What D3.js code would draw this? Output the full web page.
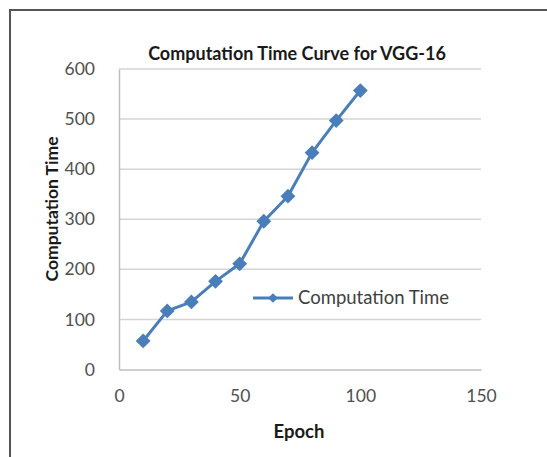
<!DOCTYPE html>
<html>
<head>
<meta charset="utf-8">
<script src="https://cdn.jsdelivr.net/npm/d3@7"></script>
<style>
  body { margin: 0; background: #fff; }
  svg text { font-family: Lato, "Open Sans", sans-serif; }
</style>
</head>
<body>
<svg id="chart"></svg>
<script>
/*
    DATA
*/
var epochs = [10, 20, 30, 40, 50, 60, 70, 80, 90, 100];
var compTime = [57, 117, 135, 176, 211, 296, 346, 433, 497, 557];
var xTicks = [0, 50, 100, 150];
var yTicks = [0, 100, 200, 300, 400, 500, 600];
var seriesName = "Computation Time";

/*
    LAYOUT
*/
var width = 547, height = 457;
var plot = {left: 119, right: 481, top: 69, bottom: 369.5};
var blue = "#4a7ebb";

var svg = d3.select("#chart").attr("width", width).attr("height", height);

// outer frame (cut off at the right and bottom)
svg.append("path")
  .attr("d", "M10," + height + " V10 H" + width)
  .attr("fill", "none")
  .attr("stroke", "#555")
  .attr("stroke-width", 2);

var x = d3.scaleLinear().domain([0, 150]).range([plot.left, plot.right]);
var y = d3.scaleLinear().domain([0, 600]).range([plot.bottom, plot.top]);

// gridlines
svg.append("g")
  .selectAll("line")
  .data(yTicks.filter(function(d) { return d > 0; }))
  .enter().append("line")
  .attr("x1", plot.left).attr("x2", plot.right)
  .attr("y1", function(d) { return y(d); })
  .attr("y2", function(d) { return y(d); })
  .attr("stroke", "#d4d4d4")
  .attr("stroke-width", 1.5);

// axes
var xAxis = svg.append("g")
  .attr("transform", "translate(0," + plot.bottom + ")")
  .call(d3.axisBottom(x).tickValues(xTicks).tickSize(0).tickPadding(20));
var yAxis = svg.append("g")
  .attr("transform", "translate(" + plot.left + ",0)")
  .call(d3.axisLeft(y).tickValues(yTicks).tickSize(0).tickPadding(24));

[xAxis, yAxis].forEach(function(a) {
  a.select(".domain").attr("stroke", "#bfbfbf").attr("stroke-width", 1.5);
  a.selectAll("text")
    .attr("fill", "#505050")
    .style("font-size", "17.5px")
    .style("font-family", "Lato, 'Open Sans', sans-serif");
});

// title and axis labels
svg.append("text")
  .attr("x", 297).attr("y", 60)
  .attr("text-anchor", "middle")
  .style("font-size", "18px").style("font-weight", "bold")
  .attr("fill", "#1a1a1a")
  .text("Computation Time Curve for VGG-16");

svg.append("text")
  .attr("x", 299).attr("y", 438)
  .attr("text-anchor", "middle")
  .style("font-size", "18.5px").style("font-weight", "bold")
  .attr("fill", "#1a1a1a")
  .text("Epoch");

svg.append("text")
  .attr("transform", "translate(58,209) rotate(-90)")
  .attr("text-anchor", "middle")
  .style("font-size", "17.5px").style("font-weight", "bold")
  .attr("fill", "#1a1a1a")
  .text("Computation Time");

// series
var pts = epochs.map(function(e, i) { return [e, compTime[i]]; });
var line = d3.line()
  .x(function(d) { return x(d[0]); })
  .y(function(d) { return y(d[1]); });

svg.append("path")
  .datum(pts)
  .attr("d", line)
  .attr("fill", "none")
  .attr("stroke", blue)
  .attr("stroke-width", 3)
  .attr("stroke-linejoin", "round");

var diamond = d3.symbol().type(d3.symbolDiamond2).size(140);
svg.append("g")
  .selectAll("path")
  .data(pts)
  .enter().append("path")
  .attr("d", diamond)
  .attr("transform", function(d) { return "translate(" + x(d[0]) + "," + y(d[1]) + ")"; })
  .attr("fill", blue);

// legend
var leg = svg.append("g").attr("transform", "translate(253,298)");
leg.append("line")
  .attr("x1", 0).attr("x2", 40)
  .attr("stroke", blue).attr("stroke-width", 3);
leg.append("path")
  .attr("d", d3.symbol().type(d3.symbolDiamond2).size(60))
  .attr("transform", "translate(20,0)")
  .attr("fill", blue);
leg.append("text")
  .attr("x", 45).attr("y", 0).attr("dy", "0.35em")
  .style("font-size", "18.5px")
  .attr("fill", "#404040")
  .text(seriesName);
</script>
</body>
</html>
